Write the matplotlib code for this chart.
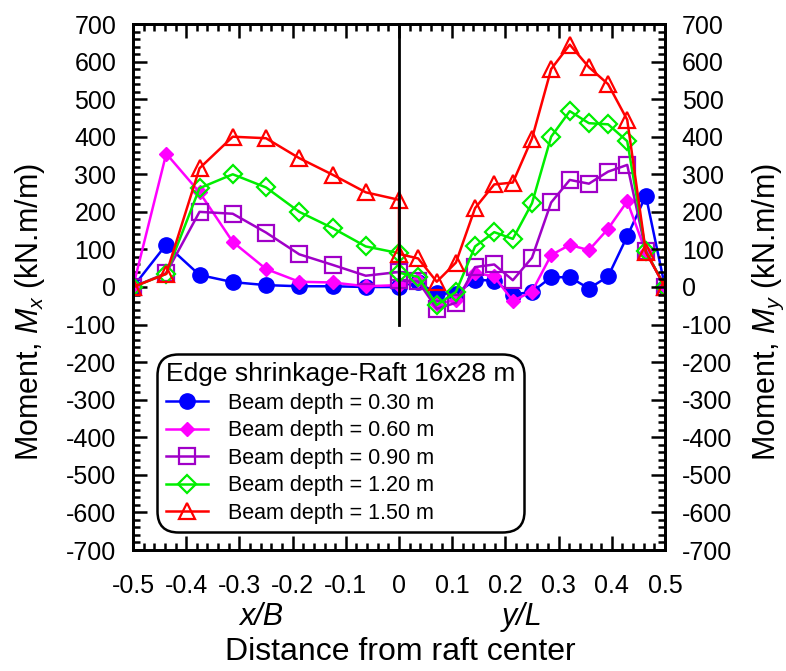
import numpy as np
import matplotlib
matplotlib.use("Agg")
import matplotlib.pyplot as plt
from matplotlib.ticker import MultipleLocator

plt.rcParams['font.family'] = ['Liberation Sans', 'DejaVu Sans']
plt.rcParams['mathtext.fontset'] = 'custom'
plt.rcParams['mathtext.rm'] = 'Liberation Sans'
plt.rcParams['mathtext.it'] = 'Liberation Sans:italic'
plt.rcParams['axes.unicode_minus'] = False

# positions along the raft (left half x/B, right half y/L)
xB = [-0.5, -0.4375, -0.375, -0.3125, -0.25, -0.1875, -0.125, -0.0625, 0.0]
yL = [0.0, 0.036, 0.071, 0.107, 0.143, 0.179, 0.214, 0.25, 0.286,
      0.321, 0.357, 0.393, 0.429, 0.464, 0.5]

# moments Mx (left half) and My (right half), kN.m/m
mx_030 = [0, 113, 32, 13, 5, 2, 2, 0, 0]
my_030 = [3, 12, -17, -18, 19, 17, -20, -13, 26, 26, -4, 28, 135, 243, 0]
mx_060 = [0, 355, 252, 120, 48, 14, 12, 2, 5]
my_060 = [5, 18, -45, -35, 38, 28, -37, -12, 85, 112, 98, 155, 228, 93, 0]
mx_090 = [0, 37, 200, 195, 145, 87, 59, 30, 40]
my_090 = [18, 15, -58, -42, 53, 60, 18, 78, 225, 285, 275, 307, 325, 95, 0]
mx_120 = [0, 35, 263, 300, 265, 200, 157, 108, 90]
my_120 = [38, 27, -48, -13, 108, 146, 128, 223, 400, 468, 436, 433, 388, 95, 0]
mx_150 = [0, 35, 316, 400, 396, 343, 299, 252, 232]
my_150 = [88, 76, 14, 65, 210, 273, 278, 395, 580, 645, 585, 540, 445, 93, 0]

labels = ["Beam depth = 0.30 m", "Beam depth = 0.60 m", "Beam depth = 0.90 m",
          "Beam depth = 1.20 m", "Beam depth = 1.50 m"]
xticklabels = ["-0.5", "-0.4", "-0.3", "-0.2", "-0.1", "0",
               "0.1", "0.2", "0.3", "0.4", "0.5"]

fig = plt.figure(figsize=(7.86, 6.71), dpi=100)
ax = fig.add_axes([133 / 786, 1 - 550 / 671, 532 / 786, 526 / 671])

xs = xB + yL
series = [
    (mx_030 + my_030, dict(color="#0000ff", marker="o", ms=11, mfc="#0000ff")),
    (mx_060 + my_060, dict(color="#ff00ff", marker="D", ms=7.5, mfc="#ff00ff")),
    (mx_090 + my_090, dict(color="#a000c8", marker="s", ms=11.5, mfc="none", mew=1.6)),
    (mx_120 + my_120, dict(color="#00ee00", marker="D", ms=9.5, mfc="none", mew=1.6)),
    (mx_150 + my_150, dict(color="#ff0000", marker="^", ms=11, mfc="none", mew=1.6)),
]
for (vals, style), lab in zip(series, labels):
    ax.plot(xs, vals, lw=1.8, label=lab, **style)

# centre line
ax.axvline(0, ymin=600 / 1400, ymax=1, color="black", lw=2)

ax.set_xlim(-0.5, 0.5)
ax.set_ylim(-700, 700)
ax.set_xticks(np.arange(-0.5, 0.51, 0.1))
ax.set_xticklabels(xticklabels)
ax.xaxis.set_minor_locator(MultipleLocator(0.02))
ax.yaxis.set_major_locator(MultipleLocator(100))
ax.yaxis.set_minor_locator(MultipleLocator(20))

ax2 = ax.twinx()
ax2.set_ylim(-700, 700)
ax2.yaxis.set_major_locator(MultipleLocator(100))
ax2.yaxis.set_minor_locator(MultipleLocator(20))

for a in (ax, ax2):
    for s in a.spines.values():
        s.set_linewidth(2)
ax.tick_params(which="both", direction="in", top=True, right=False, width=1.8)
ax.tick_params(which="major", length=10, labelsize=18)
ax.tick_params(which="minor", length=5)
ax.tick_params(axis="x", which="major", pad=17)
ax.tick_params(axis="y", which="major", pad=12)
ax2.tick_params(which="both", direction="in", width=1.8)
ax2.tick_params(which="major", length=10, labelsize=18, pad=12)
ax2.tick_params(which="minor", length=5)

fig.text(30 / 786, 1 - 312 / 671, r"Moment, $M_x$ (kN.m/m)", fontsize=22,
         rotation=90, ha="center", va="center")
fig.text(768 / 786, 1 - 312 / 671, r"Moment, $M_y$ (kN.m/m)", fontsize=22,
         rotation=90, ha="center", va="center")

ax.text(0.242, -0.127, "x/B", transform=ax.transAxes, fontsize=22,
        style="italic", ha="center", va="center")
ax.text(0.731, -0.127, "y/L", transform=ax.transAxes, fontsize=22,
        style="italic", ha="center", va="center")
ax.text(0.502, -0.194, "Distance from raft center", transform=ax.transAxes,
        fontsize=23, ha="center", va="center")

leg = ax.legend(loc="lower left", bbox_to_anchor=(0.045, 0.034),
                title="Edge shrinkage-Raft 16x28 m", title_fontsize=19,
                fontsize=15.5, alignment="left", handlelength=1.95,
                handletextpad=0.95, labelspacing=0.3, borderpad=0.4,
                borderaxespad=0, fancybox=True, framealpha=1,
                edgecolor="black")
leg.get_frame().set_linewidth(1.8)
leg.get_frame().set_boxstyle("round,pad=0,rounding_size=1.0")
leg.set_zorder(5)

fig.savefig("out.png", dpi=100)
